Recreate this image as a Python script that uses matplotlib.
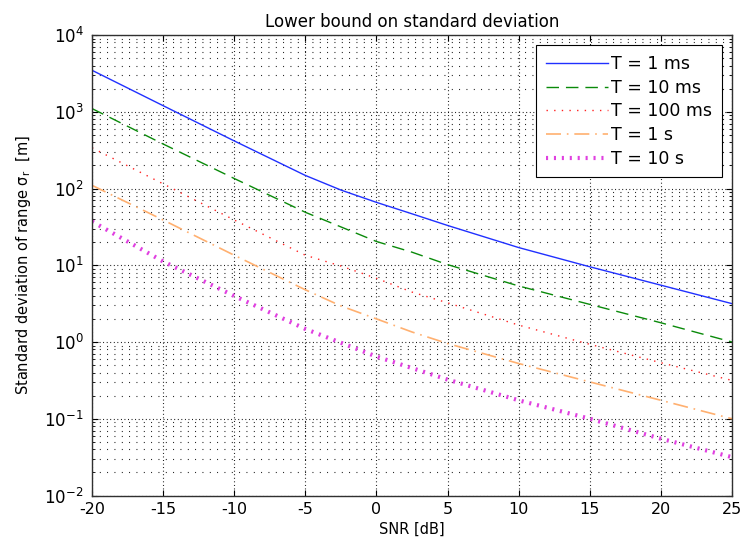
import numpy as np
import matplotlib
matplotlib.use("Agg")
import matplotlib.pyplot as plt
from matplotlib.ticker import NullFormatter, FixedLocator, LogFormatterMathtext

plt.rcParams['font.family'] = ['DejaVu Sans']
plt.rcParams['mathtext.fontset'] = 'dejavusans'
plt.rcParams['axes.unicode_minus'] = False

snr_db = [-20, -15, -10, -5, -2.5, 0, 2.5, 5, 10, 15, 20, 25]
sigma_1ms = [3470, 1200, 417, 148, 95.5, 66, 46.8, 33, 17, 9.55, 5.5, 3.16]
sigma_10ms = [1100, 380, 135, 49, 31.6, 20.4, 14.8, 10.2, 5.37, 3.09, 1.78, 1.0]
sigma_100ms = [339, 115, 38.9, 13.5, 9.77, 6.76, 4.47, 3.24, 1.66, 0.933, 0.537, 0.316]
sigma_1s = [110, 38.9, 13.5, 4.79, 2.95, 2.0, 1.35, 0.955, 0.525, 0.302, 0.174, 0.10]
sigma_10s = [37.2, 11.2, 3.98, 1.48, 0.977, 0.646, 0.457, 0.324, 0.174, 0.10, 0.055, 0.0316]
labels = ['T = 1 ms', 'T = 10 ms', 'T = 100 ms', 'T = 1 s', 'T = 10 s']
x_ticks = [-20, -15, -10, -5, 0, 5, 10, 15, 20, 25]
y_decades = [1e-2, 1e-1, 1e0, 1e1, 1e2, 1e3, 1e4]

fig = plt.figure(figsize=(7.41, 5.48), dpi=100)
ax = fig.add_axes([0.1242, 0.0958, 0.8637, 0.8403])

ax.semilogy(snr_db, sigma_1ms, color='#2030ff', lw=1.0, ls='-', label=labels[0])
ax.semilogy(snr_db, sigma_10ms, color='#0a8a0a', lw=1.0, ls=(0, (9, 5)), label=labels[1])
ax.semilogy(snr_db, sigma_100ms, color='#ff2020', lw=1.0, ls=(0, (1, 4.5)), label=labels[2])
ax.semilogy(snr_db, sigma_1s, color='#ffb070', lw=1.2, ls=(0, (9, 3.5, 1, 3.5)), label=labels[3])
ax.semilogy(snr_db, sigma_10s, color='#e040e0', lw=3.0, ls=(0, (0.5, 1.4)), label=labels[4])

ax.set_xlim(-20, 25)
ax.set_ylim(y_decades[0], y_decades[-1])
ax.xaxis.set_major_locator(FixedLocator(x_ticks))
ax.yaxis.set_major_locator(FixedLocator(y_decades))
ax.yaxis.set_major_formatter(LogFormatterMathtext())
minor = [d * m for d in y_decades[:-1] for m in range(2, 10)]
ax.yaxis.set_minor_locator(FixedLocator(minor))
ax.yaxis.set_minor_formatter(NullFormatter())

ax.grid(True, which='major', axis='both', color='black', ls=(0, (0.8, 2.4)), lw=0.8)
ax.grid(True, which='minor', axis='y', color='black', ls=(0, (0.8, 5.8)), lw=0.8)

ax.tick_params(which='both', direction='in', top=True, right=True, labelsize=12)
ax.tick_params(axis='x', labelsize=11.5)
ax.tick_params(which='major', length=4)
ax.tick_params(which='minor', length=2)
ax.tick_params(axis='x', pad=5)
ax.tick_params(axis='y', pad=6)
for s in ax.spines.values():
    s.set_linewidth(1.0)
    s.set_color('#303030')

ax.set_title('Lower bound on standard deviation', fontsize=12, pad=6)
ax.set_xlabel('SNR [dB]', fontsize=10.5, labelpad=3)
ax.set_ylabel(r'Standard deviation of range $\mathregular{\sigma_r}$  [m]', fontsize=10.5, labelpad=8)

leg = ax.legend(loc='upper right', fontsize=12.5, handlelength=3.6, handletextpad=0.15,
                labelspacing=0.33, borderaxespad=0.6, fancybox=False, framealpha=1,
                edgecolor='black', borderpad=0.55)
leg.get_frame().set_linewidth(0.8)

fig.savefig('out.png', dpi=100)
